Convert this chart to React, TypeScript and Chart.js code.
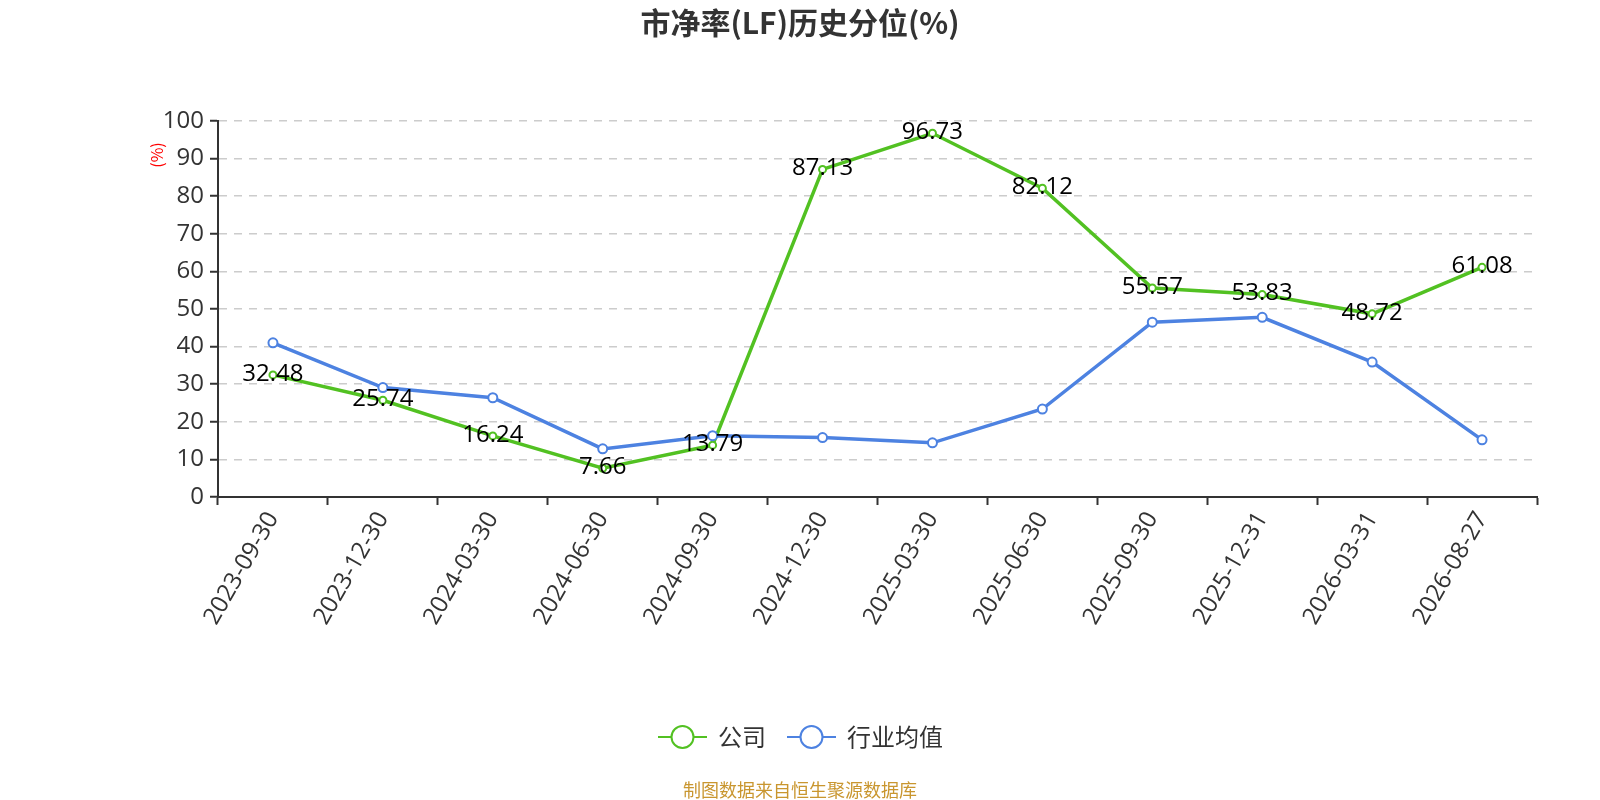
import React, { useEffect, useRef } from "react";
import { Chart, registerables } from "chart.js";

Chart.register(...registerables);

const categories = [
  "2023-09-30", "2023-12-30", "2024-03-30", "2024-06-30", "2024-09-30", "2024-12-30",
  "2025-03-30", "2025-06-30", "2025-09-30", "2025-12-31", "2026-03-31", "2026-08-27",
];
const companyValues = [32.48, 25.74, 16.24, 7.66, 13.79, 87.13, 96.73, 82.12, 55.57, 53.83, 48.72, 61.08];
const industryValues = [41.0, 29.1, 26.4, 12.8, 16.3, 15.8, 14.4, 23.4, 46.5, 47.8, 35.9, 15.2];
const yTicks = [0, 10, 20, 30, 40, 50, 60, 70, 80, 90, 100];

const titleText = "市净率(LF)历史分位(%)";
const yAxisTitle = "(%)";
const seriesNames = ["公司", "行业均值"];
const footerText = "制图数据来自恒生聚源数据库";

const GREEN = "#52c122";
const BLUE = "#4d82e1";
const FONT = "'Open Sans', 'Noto Sans CJK SC', sans-serif";
const CJK = "'Noto Sans CJK SC', 'Open Sans', sans-serif";

const decorPlugin = {
  id: "decor",
  afterDatasetsDraw(chart: any) {
    const ctx = chart.ctx;
    const meta = chart.getDatasetMeta(0);
    ctx.save();
    ctx.font = `24px ${FONT}`;
    ctx.fillStyle = "#000";
    ctx.textAlign = "center";
    ctx.textBaseline = "middle";
    meta.data.forEach((pt: any, i: number) => {
      ctx.fillText(companyValues[i].toFixed(2), pt.x, pt.y - 1);
    });
    ctx.restore();
  },
  afterDraw(chart: any) {
    const ctx = chart.ctx;
    ctx.save();
    // title
    ctx.font = `bold 30px ${CJK}`;
    ctx.fillStyle = "#333";
    ctx.textAlign = "center";
    ctx.textBaseline = "middle";
    ctx.fillText(titleText, 800, 23);
    // y axis title
    ctx.save();
    ctx.translate(157, 155);
    ctx.rotate(-Math.PI / 2);
    ctx.font = `16px ${CJK}`;
    ctx.fillStyle = "#ff0000";
    ctx.fillText(yAxisTitle, 0, 0);
    ctx.restore();
    // legend
    const items = [
      { x: 658, color: GREEN, label: seriesNames[0] },
      { x: 787, color: BLUE, label: seriesNames[1] },
    ];
    items.forEach((it) => {
      const y = 737;
      ctx.strokeStyle = it.color;
      ctx.lineWidth = 2;
      ctx.beginPath();
      ctx.moveTo(it.x, y);
      ctx.lineTo(it.x + 49, y);
      ctx.stroke();
      ctx.beginPath();
      ctx.arc(it.x + 24.5, y, 11, 0, Math.PI * 2);
      ctx.fillStyle = "#fff";
      ctx.fill();
      ctx.lineWidth = 2;
      ctx.stroke();
      ctx.font = `24px ${CJK}`;
      ctx.fillStyle = "#333";
      ctx.textAlign = "left";
      ctx.textBaseline = "middle";
      ctx.fillText(it.label, it.x + 60, y);
    });
    // footer
    ctx.font = `18px ${CJK}`;
    ctx.fillStyle = "#c9962f";
    ctx.textAlign = "center";
    ctx.textBaseline = "middle";
    ctx.fillText(footerText, 800, 790);
    ctx.restore();
  },
};

export default function App() {
  const ref = useRef<HTMLCanvasElement | null>(null);
  useEffect(() => {
    if (!ref.current) return;
    const chart = new Chart(ref.current, {
      type: "line",
      data: {
        labels: categories,
        datasets: [
          {
            label: seriesNames[0],
            data: companyValues,
            borderColor: GREEN,
            backgroundColor: "#fff",
            borderWidth: 3.5,
            pointRadius: 3.5,
            pointBorderWidth: 2,
            pointBackgroundColor: "#fff",
            pointBorderColor: GREEN,
            tension: 0,
            order: 2,
          },
          {
            label: seriesNames[1],
            data: industryValues,
            borderColor: BLUE,
            backgroundColor: "#fff",
            borderWidth: 3.5,
            pointRadius: 4.5,
            pointBorderWidth: 2,
            pointBackgroundColor: "#fff",
            pointBorderColor: BLUE,
            tension: 0,
            order: 1,
          },
        ],
      },
      options: {
        animation: false,
        responsive: false,
        maintainAspectRatio: false,
        devicePixelRatio: 1,
        layout: { padding: { top: 121, left: 0, right: 63, bottom: 0 } },
        plugins: {
          legend: { display: false },
          title: { display: false },
          tooltip: { enabled: false },
        },
        scales: {
          x: {
            type: "category",
            offset: true,
            afterFit: (s: any) => { s.height = 303; },
            grid: {
              display: true,
              drawOnChartArea: false,
              offset: true,
              tickLength: 8,
              tickColor: "#333",
              tickWidth: 2,
            },
            border: { display: true, color: "#333", width: 2 },
            ticks: {
              color: "#333",
              font: { size: 24, family: FONT },
              minRotation: 60,
              maxRotation: 60,
              autoSkip: false,
              padding: 2,
            },
          },
          y: {
            min: 0,
            max: 100,
            afterFit: (s: any) => { s.width = 218; },
            afterBuildTicks: (s: any) => { s.ticks = yTicks.map((v) => ({ value: v })); },
            grid: {
              color: "#cccccc",
              lineWidth: 1.5,
              tickLength: 8,
              tickColor: "#333",
              tickWidth: 2,
            },
            border: { display: true, color: "#333", width: 2, dash: [8, 7] },
            ticks: {
              color: "#333",
              font: { size: 24, family: FONT },
              padding: 6,
            },
          },
        },
      },
      plugins: [decorPlugin],
    } as any);
    return () => chart.destroy();
  }, []);
  return (
    <div style={{ position: "fixed", left: 0, top: 0, width: 1600, height: 800, background: "#fff" }}>
      <canvas ref={ref} width={1600} height={800} style={{ width: 1600, height: 800 }} />
    </div>
  );
}
